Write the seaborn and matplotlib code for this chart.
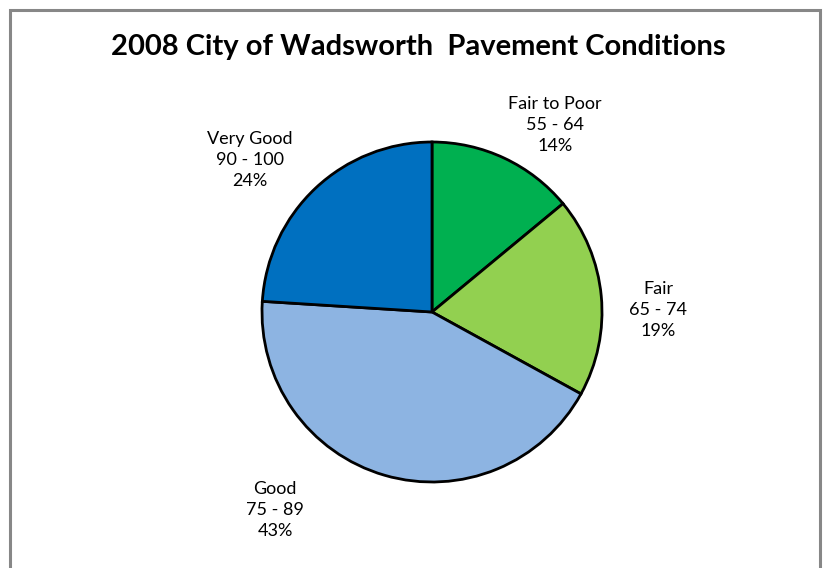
import matplotlib
matplotlib.use("Agg")
import matplotlib.pyplot as plt
import seaborn as sns
from matplotlib.patches import Rectangle

# dados do gráfico
categorias = ["Fair to Poor", "Fair", "Good", "Very Good"]
faixas = ["55 - 64", "65 - 74", "75 - 89", "90 - 100"]
percentuais = [14, 19, 43, 24]
cores = ["#00B050", "#92D050", "#8DB4E2", "#0070C0"]

# posição dos rótulos (pixels, origem embaixo à esquerda)
pos_rotulos = [(555, 443), (658, 258), (275, 58), (250, 408)]

sns.set_theme(style="white")
plt.rcParams['font.family'] = ['Lato', 'DejaVu Sans']

fig = plt.figure(figsize=(8.25, 5.68), dpi=100)
ax = fig.add_axes([0, 0, 1, 1])

ax.pie(percentuais, colors=cores, startangle=90, counterclock=False,
       center=(432, 256), radius=170, frame=True,
       wedgeprops=dict(edgecolor='black', linewidth=2))
ax.set_xlim(0, 825)
ax.set_ylim(0, 568)
ax.set_aspect('equal')
ax.axis('off')

for cat, faixa, p, (x, y) in zip(categorias, faixas, percentuais, pos_rotulos):
    ax.text(x, y, f"{cat}\n{faixa}\n{p}%", ha='center', va='center',
            fontsize=13, linespacing=1.35, color='black')

# título
ax.text(418, 521, "2008 City of Wadsworth  Pavement Conditions", ha='center', va='center',
        fontsize=21, fontweight='bold', color='black')

# moldura
fig.patches.append(Rectangle((10, -20), 810, 578, transform=None, fill=False,
                             edgecolor='#878787', linewidth=2.2))

fig.savefig("out.png", dpi=100)
